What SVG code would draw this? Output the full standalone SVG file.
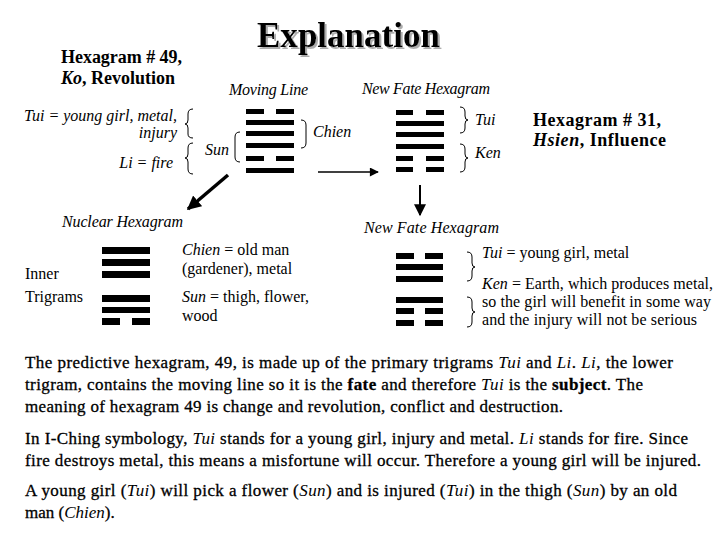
<svg xmlns="http://www.w3.org/2000/svg" width="720" height="540" viewBox="0 0 720 540" font-family="Liberation Serif, serif">
<style>
text{font-family:'Liberation Serif',serif;fill:#000}
.it{font-style:italic}
.b{font-weight:bold}
.lbl{font-size:16px}
.para{font-size:17px;stroke:#000;stroke-width:0.3}
.bar{fill:#000}
.br{fill:none;stroke:#000;stroke-width:1}
.conn{stroke:#000;fill:none}
</style>
<defs>
<marker id="ah" viewBox="0 0 10 10" refX="9" refY="5" markerWidth="4" markerHeight="4" orient="auto" markerUnits="strokeWidth">
<path d="M0,0 L10,5 L0,10 z" fill="#000"/>
</marker>
<marker id="ahs" viewBox="0 0 10 10" refX="9" refY="5" markerWidth="8" markerHeight="6" orient="auto" markerUnits="strokeWidth">
<path d="M0,0 L10,5 L0,10 z" fill="#000"/>
</marker>
<filter id="shadow" x="-5%" y="-10%" width="115%" height="130%">
<feDropShadow dx="2" dy="2" stdDeviation="0.6" flood-color="#999" flood-opacity="0.8"/>
</filter>
</defs>
<rect width="720" height="540" fill="#fff"/>

<g id="title">
<text x="257" y="47" font-size="36" font-weight="bold" textLength="183" lengthAdjust="spacingAndGlyphs" filter="url(#shadow)">Explanation</text>
</g>

<g id="hex49-title">
<text x="61" y="63" font-size="18" class="b" textLength="121">Hexagram # 49,</text>
<text x="61" y="84" font-size="18" class="b" textLength="114"><tspan class="it">Ko</tspan>, Revolution</text>
</g>

<g id="trigram-notes">
<text x="177" y="121" class="lbl it" text-anchor="end">Tui = young girl, metal,</text>
<text x="177" y="138" class="lbl it" text-anchor="end">injury</text>
<text x="173" y="168" class="lbl it" text-anchor="end">Li = fire</text>
<path class="br" d="M193,109 Q188,109 188,114 L188,120 Q188,124 185,124 Q188,124 188,128 L188,134 Q188,138 193,138"/>
<path class="br" d="M193,143 Q188,143 188,148 L188,154 Q188,158 185,158 Q188,158 188,162 L188,169 Q188,174 193,174"/>
</g>

<g id="moving-line-hex">
<text x="229" y="95" class="lbl it" textLength="79">Moving Line</text>
<rect class="bar" x="246" y="109" width="18" height="5"/><rect class="bar" x="276" y="109" width="18" height="5"/>
<rect class="bar" x="246" y="120" width="48" height="5"/>
<rect class="bar" x="246" y="131" width="48" height="5"/>
<rect class="bar" x="246" y="143" width="48" height="5"/>
<rect class="bar" x="246" y="156" width="18" height="5"/><rect class="bar" x="276" y="156" width="18" height="5"/>
<rect class="bar" x="246" y="168" width="48" height="5"/>
<path class="br" d="M240,132 Q235,132 235,137 L235,157 Q235,162 240,162"/>
<text x="205" y="155" class="lbl it">Sun</text>
<path class="br" d="M301,120 Q306,120 306,125 L306,143 Q306,148 301,148"/>
<text x="313" y="137" class="lbl it">Chien</text>
</g>

<g id="new-fate-hex">
<text x="362" y="94" class="lbl it" textLength="128">New Fate Hexagram</text>
<rect class="bar" x="396" y="110" width="17" height="5"/><rect class="bar" x="426" y="110" width="18" height="5"/>
<rect class="bar" x="396" y="121" width="48" height="5"/>
<rect class="bar" x="396" y="132" width="48" height="5"/>
<rect class="bar" x="396" y="144" width="48" height="5"/>
<rect class="bar" x="396" y="156" width="17" height="5"/><rect class="bar" x="426" y="156" width="18" height="5"/>
<rect class="bar" x="396" y="167" width="17" height="5"/><rect class="bar" x="426" y="167" width="18" height="5"/>
<path class="br" d="M460,107 Q465,107 465,112 L465,116 Q465,120 468,120 Q465,120 465,124 L465,128 Q465,133 460,133"/>
<text x="475" y="125" class="lbl it">Tui</text>
<path class="br" d="M460,144 Q465,144 465,149 L465,154 Q465,158 468,158 Q465,158 465,162 L465,167 Q465,172 460,172"/>
<text x="475" y="158" class="lbl it">Ken</text>
</g>

<g id="hex31-title">
<text x="533" y="126" font-size="18" class="b" textLength="128">Hexagram # 31,</text>
<text x="533" y="146" font-size="18" class="b" textLength="133"><tspan class="it">Hsien</tspan>, Influence</text>
</g>

<g id="nuclear-hex">
<text x="62" y="227" class="lbl it" textLength="121">Nuclear Hexagram</text>
<text x="25" y="279" class="lbl">Inner</text>
<text x="25" y="302" class="lbl">Trigrams</text>
<rect class="bar" x="102" y="247" width="48" height="7"/>
<rect class="bar" x="102" y="259" width="48" height="7"/>
<rect class="bar" x="102" y="271" width="48" height="7"/>
<rect class="bar" x="102" y="295" width="48" height="7"/>
<rect class="bar" x="102" y="307" width="48" height="6"/>
<rect class="bar" x="102" y="318" width="18" height="7"/><rect class="bar" x="132" y="318" width="18" height="7"/>
<text x="182" y="255" class="lbl"><tspan class="it">Chien</tspan> = old man</text>
<text x="182" y="274" class="lbl">(gardener), metal</text>
<text x="182" y="302" class="lbl"><tspan class="it">Sun</tspan> = thigh, flower,</text>
<text x="182" y="321" class="lbl">wood</text>
</g>

<g id="new-fate-hex-2">
<text x="364" y="233" class="lbl it" textLength="135">New Fate Hexagram</text>
<rect class="bar" x="396" y="253" width="18" height="6"/><rect class="bar" x="425" y="253" width="18" height="6"/>
<rect class="bar" x="396" y="264" width="47" height="6"/>
<rect class="bar" x="396" y="276" width="47" height="6"/>
<rect class="bar" x="396" y="297" width="47" height="6"/>
<rect class="bar" x="396" y="308" width="18" height="6"/><rect class="bar" x="425" y="308" width="18" height="6"/>
<rect class="bar" x="396" y="320" width="18" height="6"/><rect class="bar" x="425" y="320" width="18" height="6"/>
<path class="br" d="M467,252 Q472,252 472,257 L472,263 Q472,267 475,267 Q472,267 472,271 L472,276 Q472,281 467,281"/>
<path class="br" d="M467,297 Q472,297 472,302 L472,308 Q472,312 475,312 Q472,312 472,316 L472,322 Q472,327 467,327"/>
<text x="482" y="258" class="lbl"><tspan class="it">Tui</tspan> = young girl, metal</text>
<text x="482" y="289" class="lbl" textLength="231"><tspan class="it">Ken</tspan> = Earth, which produces metal,</text>
<text x="482" y="307" class="lbl" textLength="229">so the girl will benefit in some way</text>
<text x="482" y="325" class="lbl" textLength="215">and the injury will not be serious</text>
</g>

<g id="connectors">
<line class="conn" x1="228" y1="175" x2="188" y2="209" stroke-width="3.5" marker-end="url(#ah)"/>
<line class="conn" x1="318" y1="172" x2="378" y2="172" stroke-width="1.5" marker-end="url(#ahs)"/>
<line class="conn" x1="420" y1="185" x2="420" y2="215" stroke-width="2" marker-end="url(#ahs)"/>
</g>

<g id="explanation-text">
<text x="25" y="368" class="para" textLength="648">The predictive hexagram, 49, is made up of the primary trigrams <tspan class="it" stroke-width="0">Tui</tspan>  and <tspan class="it" stroke-width="0">Li</tspan>. <tspan class="it" stroke-width="0">Li</tspan>, the lower</text>
<text x="25" y="390" class="para" textLength="618">trigram, contains the moving line so it is the <tspan class="b">fate</tspan> and therefore <tspan class="it" stroke-width="0">Tui</tspan> is the <tspan class="b">subject</tspan>. The</text>
<text x="25" y="412" class="para" textLength="538">meaning of hexagram 49 is change and revolution, conflict and destruction.</text>
<text x="25" y="444" class="para" textLength="663">In I-Ching symbology, <tspan class="it" stroke-width="0">Tui</tspan> stands for a young girl, injury and metal. <tspan class="it" stroke-width="0">Li</tspan> stands for fire. Since</text>
<text x="25" y="466" class="para" textLength="676">fire destroys metal, this means a misfortune will occur. Therefore a young girl will be injured.</text>
<text x="25" y="496" class="para" textLength="652">A young girl (<tspan class="it" stroke-width="0">Tui</tspan>) will pick a flower (<tspan class="it" stroke-width="0">Sun</tspan>) and is injured (<tspan class="it" stroke-width="0">Tui</tspan>) in the thigh (<tspan class="it" stroke-width="0">Sun</tspan>) by an old</text>
<text x="25" y="518" class="para">man (<tspan class="it" stroke-width="0">Chien</tspan>).</text>
</g>
</svg>
